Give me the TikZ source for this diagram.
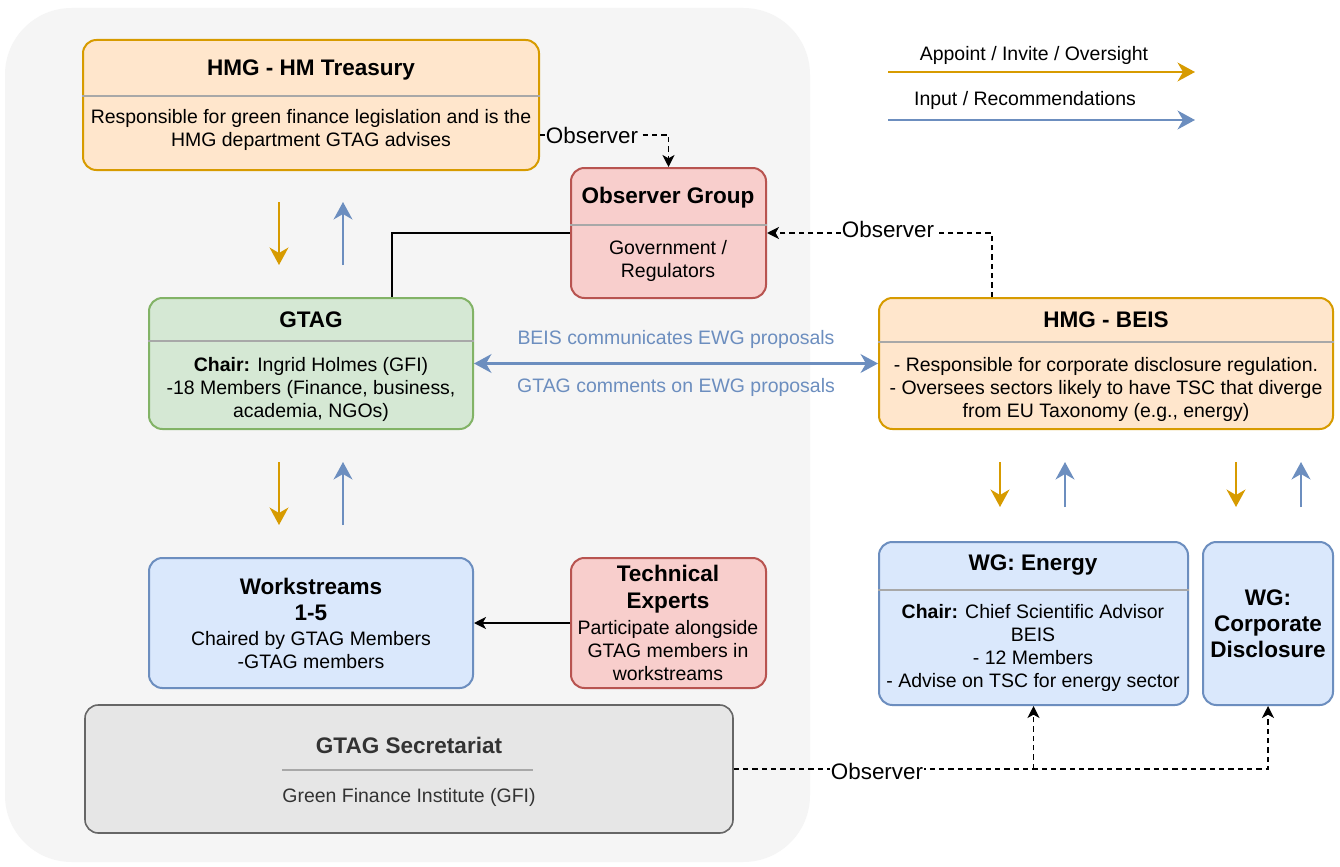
\documentclass[tikz,border=0pt]{standalone}
\usepackage{fontspec}
\setmainfont{Liberation Sans}
\usetikzlibrary{arrows.meta,fit,calc}
\definecolor{bggray}{HTML}{F5F5F5}
\definecolor{orfill}{HTML}{FFE6CC}
\definecolor{orline}{HTML}{D79B00}
\definecolor{rdfill}{HTML}{F8CECC}
\definecolor{rdline}{HTML}{B85450}
\definecolor{grfill}{HTML}{D5E8D4}
\definecolor{grline}{HTML}{82B366}
\definecolor{blfill}{HTML}{DAE8FC}
\definecolor{blline}{HTML}{6C8EBF}
\definecolor{secfill}{HTML}{E6E6E6}
\definecolor{secline}{HTML}{666666}
\definecolor{sectxt}{HTML}{333333}
\definecolor{sepline}{HTML}{A8A8A8}
\newcommand{\bodyfnt}{\fontsize{14.6}{17.25}\selectfont}
\newcommand{\ttlfnt}{\fontsize{16.9}{19.8}\selectfont\bfseries}
\newcommand{\obsfnt}{\fontsize{16.8}{19.8}\selectfont}
\tikzset{
  x=0.75pt, y=-0.75pt,
  box/.style={draw, line width=1.5pt, rounded corners=10pt, inner sep=0pt},
  orbox/.style={box, fill=orfill, draw=orline},
  rdbox/.style={box, fill=rdfill, draw=rdline},
  grbox/.style={box, fill=grfill, draw=grline},
  blbox/.style={box, fill=blfill, draw=blline},
  secbox/.style={box, fill=secfill, draw=secline, line width=1.2pt},
  txt/.style={font=\bodyfnt, align=center, inner sep=0pt},
  ttl/.style={font=\ttlfnt, align=center, inner sep=0pt},
  sepln/.style={draw=sepline, line width=1.1pt},
  bigtip/.tip={Stealth[length=13pt,width=14pt,inset=4pt]},
  oarr/.style={draw=orline, line width=2.2pt, -bigtip},
  barr/.style={draw=blline, line width=2.2pt, -bigtip},
  bidir/.style={draw=blline, line width=2.2pt, bigtip-bigtip},
  dasharr/.style={draw=black, line width=1.1pt, dash pattern=on 4pt off 3pt, -{Stealth[length=9pt,width=9pt,inset=2.5pt]}},
  solarr/.style={draw=black, line width=1.2pt, -{Stealth[length=9pt,width=9pt,inset=2.5pt]}},
  obslbl/.style={font=\obsfnt, inner sep=1pt},
}
\begin{document}
\begin{tikzpicture}
\useasboundingbox (0,0) rectangle (1340,867);
\fill[white] (0,0) rectangle (1340,867);
\fill[bggray, rounded corners=50pt] (5,8) rectangle (810,862);

% boxes
\node[orbox, fit={(83,40)(539,170)}] (hmt) {};
\node[rdbox, fit={(571,168)(766,298)}] (obs) {};
\node[grbox, fit={(149,298)(473,429)}] (gtag) {};
\node[orbox, fit={(879,298)(1333,429)}] (beis) {};
\node[blbox, fit={(149,558)(473,688)}] (work) {};
\node[rdbox, fit={(571,558)(766,688)}] (tech) {};
\node[blbox, fit={(879,542)(1188,705)}] (wge) {};
\node[blbox, fit={(1203,542)(1333,705)}] (wgc) {};
\node[secbox, fit={(85,705)(733,833)}] (sec) {};

% HMT
\node[ttl] (hmt-t) at (311,70) {HMG - HM Treasury};
\draw[sepln] (hmt.west |- 0,96) -- (hmt.east |- 0,96);
\node[txt] (hmt-b) at (311,130) {Responsible for green finance legislation and is the\\HMG department GTAG advises};

% Observer group
\node[ttl] (obs-t) at (668,198) {Observer Group};
\draw[sepln] (obs.west |- 0,225) -- (obs.east |- 0,225);
\node[txt] (obs-b) at (668,261) {Government /\\Regulators};

% GTAG
\node[ttl] (gtag-t) at (311,320) {GTAG};
\draw[sepln] (gtag.west |- 0,341) -- (gtag.east |- 0,341);
\node[txt] (gtag-b) at (311,389) {\textbf{Chair:} Ingrid Holmes (GFI)\\-18 Members (Finance, business,\\academia, NGOs)};

% BEIS
\node[ttl] (beis-t) at (1106,320) {HMG - BEIS};
\draw[sepln] (beis.west |- 0,342) -- (beis.east |- 0,342);
\node[txt] (beis-b) at (1106,389) {- Responsible for corporate disclosure regulation.\\- Oversees sectors likely to have TSC that diverge\\from EU Taxonomy (e.g., energy)};

% Workstreams
\node[ttl, font=\fontsize{16.9}{19.5}\selectfont\bfseries] (work-t) at (311,599) {Workstreams\\1-5};
\node[txt] (work-b) at (311,650) {Chaired by GTAG Members\\-GTAG members};

% Technical experts
\node[ttl, font=\fontsize{16.9}{20.2}\selectfont\bfseries] (tech-t) at (668,589) {Technical\\Experts};
\node[txt] (tech-b) at (668,651) {Participate alongside\\GTAG members in\\workstreams};

% WG Energy
\node[ttl] (wge-t) at (1033,565) {WG: Energy};
\draw[sepln] (wge.west |- 0,590) -- (wge.east |- 0,590);
\node[txt] (wge-b) at (1033,648) {\textbf{Chair:} Chief Scientific Advisor\\BEIS\\- 12 Members\\- Advise on TSC for energy sector};

% WG Corporate
\node[ttl, font=\fontsize{16.9}{19.5}\selectfont\bfseries] (wgc-t) at (1268,624) {WG:\\Corporate\\Disclosure};

% Secretariat
\node[ttl, text=sectxt] (sec-t) at (409,745) {GTAG Secretariat};
\draw[draw=sepline, line width=1.1pt] (282,770) -- (533,770);
\node[txt, text=sectxt] (sec-b) at (409,797) {Green Finance Institute (GFI)};

% Legend
\coordinate (lg1a) at (888,72); \coordinate (lg1b) at (1195,72);
\coordinate (lg2a) at (888,120); \coordinate (lg2b) at (1195,120);
\draw[oarr] (lg1a) -- (lg1b);
\draw[barr] (lg2a) -- (lg2b);
\node[txt] (lg1t) at (1034,55) {Appoint / Invite / Oversight};
\node[txt] (lg2t) at (1025,100) {Input / Recommendations};

% vertical arrows
\coordinate (a1) at (279,202); \coordinate (a2) at (279,265);
\coordinate (a3) at (343,265); \coordinate (a4) at (343,202);
\draw[oarr] (a1) -- (a2); \draw[barr] (a3) -- (a4);
\coordinate (b1) at (279,462); \coordinate (b2) at (279,525);
\coordinate (b3) at (343,525); \coordinate (b4) at (343,462);
\draw[oarr] (b1) -- (b2); \draw[barr] (b3) -- (b4);
\coordinate (c1) at (1000,462); \coordinate (c2) at (1000,507);
\coordinate (c3) at (1065,507); \coordinate (c4) at (1065,462);
\draw[oarr] (c1) -- (c2); \draw[barr] (c3) -- (c4);
\coordinate (d1) at (1236,462); \coordinate (d2) at (1236,507);
\coordinate (d3) at (1301,507); \coordinate (d4) at (1301,462);
\draw[oarr] (d1) -- (d2); \draw[barr] (d3) -- (d4);

% connectors
\draw[dasharr] ($(hmt.east)+(0,30)$) -| (obs.north);
\node[obslbl, fill=bggray] (ol1) at (592,135) {Observer};

\draw[dasharr] ($(beis.north west)+(114,0)$) |- (obs.east);
\node[obslbl, fill=white] (ol2) at (888,229) {Observer};

\draw[black, line width=1.2pt] ($(gtag.north west)+(244,0)$) |- (obs.west);

\draw[bidir] (gtag.east) -- (beis.west);
\node[txt, text=blline] (bc1) at (676,339) {BEIS communicates EWG proposals};
\node[txt, text=blline] (bc2) at (676,387) {GTAG comments on EWG proposals};

\draw[solarr] (tech.west) -- (work.east);

\draw[dasharr] (sec.east) -| (wgc.south);
\draw[dasharr] (sec.east -| wge.south) -- (wge.south);
\node[obslbl, fill=white] (ol3) at (877,771) {Observer};
\end{tikzpicture}
\end{document}
